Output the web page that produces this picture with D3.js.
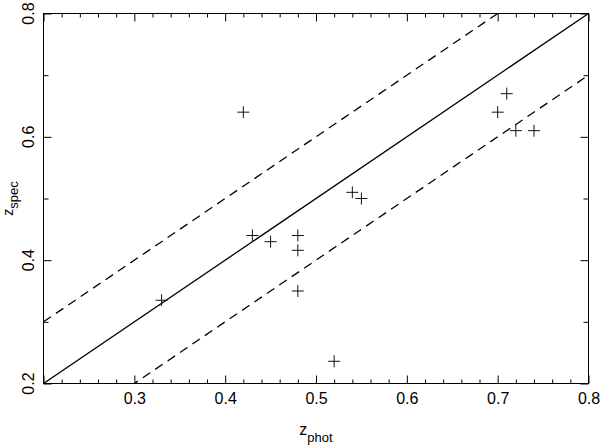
<!DOCTYPE html>
<html>
<head>
<meta charset="utf-8">
<script src="https://cdn.jsdelivr.net/npm/d3@7"></script>
<style>
  body { margin: 0; background: #fff; }
  text { font-family: "Liberation Sans", Arial, sans-serif; fill: #000; }
</style>
</head>
<body>
<div id="chart"></div>
<script>
const width = 600;
const height = 445;

// photometric vs spectroscopic redshifts
const zPhot = [0.33, 0.42, 0.43, 0.45, 0.48, 0.48, 0.48, 0.52, 0.54, 0.55, 0.70, 0.71, 0.72, 0.74];
const zSpec = [0.335, 0.64, 0.44, 0.43, 0.44, 0.416, 0.35, 0.236, 0.51, 0.50, 0.64, 0.67, 0.61, 0.61];

const xMajor = [0.2, 0.3, 0.4, 0.5, 0.6, 0.7, 0.8];
const xLabels = [0.3, 0.4, 0.5, 0.6, 0.7, 0.8];
const yMajor = [0.2, 0.4, 0.6, 0.8];
const yMinor = [0.3, 0.5, 0.7];
const yLabels = [0.2, 0.4, 0.6, 0.8];

// one-to-one line and +/-0.1 envelope
const offsets = [0, 0.1, -0.1];

const svg = d3.select("#chart")
    .append("svg")
    .attr("width", width)
    .attr("height", height);

const x = d3.scaleLinear().domain([0.2, 0.8]).range([43.5, 588.5]);
const y = d3.scaleLinear().domain([0.2, 0.8]).range([383.5, 13.5]);

const fmt = d3.format(".1f");
const xMinor = x.ticks(30).filter(v => !xMajor.some(m => Math.abs(m - v) < 1e-6));

svg.append("clipPath").attr("id", "plot")
    .append("rect")
    .attr("x", x(0.2)).attr("y", y(0.8))
    .attr("width", x(0.8) - x(0.2)).attr("height", y(0.2) - y(0.8));

// lines
offsets.forEach(function(off) {
    svg.append("line")
        .attr("clip-path", "url(#plot)")
        .attr("x1", x(0.2)).attr("y1", y(0.2 + off))
        .attr("x2", x(0.8)).attr("y2", y(0.8 + off))
        .attr("stroke", "#000")
        .attr("stroke-width", 1.3)
        .attr("stroke-dasharray", off === 0 ? null : "9,6");
});

// axes
function clean(g) {
    g.select(".domain").remove();
    g.selectAll("line").attr("stroke", "#000");
}

svg.append("g")
    .attr("transform", `translate(0,${y(0.2)})`)
    .call(d3.axisBottom(x).tickValues(xMajor).tickSize(-8).tickPadding(9)
        .tickFormat(d => xLabels.some(v => Math.abs(v - d) < 1e-6) ? fmt(d) : ""))
    .call(clean)
    .call(g => g.selectAll("text").attr("font-size", 16).attr("font-family", null));

svg.append("g")
    .attr("transform", `translate(0,${y(0.2)})`)
    .call(d3.axisBottom(x).tickValues(xMinor).tickSize(-4).tickFormat(""))
    .call(clean);

svg.append("g")
    .attr("transform", `translate(0,${y(0.8)})`)
    .call(d3.axisTop(x).tickValues(xMajor).tickSize(-8).tickFormat(""))
    .call(clean);

svg.append("g")
    .attr("transform", `translate(0,${y(0.8)})`)
    .call(d3.axisTop(x).tickValues(xMinor).tickSize(-4).tickFormat(""))
    .call(clean);

[[x(0.2), d3.axisLeft], [x(0.8), d3.axisRight]].forEach(function([pos, axis]) {
    svg.append("g")
        .attr("transform", `translate(${pos},0)`)
        .call(axis(y).tickValues(yMajor).tickSize(-8).tickFormat(""))
        .call(clean);
    svg.append("g")
        .attr("transform", `translate(${pos},0)`)
        .call(axis(y).tickValues(yMinor).tickSize(-5).tickFormat(""))
        .call(clean);
});

svg.selectAll(".ylab")
    .data(yLabels)
    .join("text")
    .attr("class", "ylab")
    .attr("transform", d => `translate(33.5,${y(d)}) rotate(-90)`)
    .attr("text-anchor", "middle")
    .attr("font-size", 16)
    .text(fmt);

// frame
svg.append("rect")
    .attr("x", x(0.2)).attr("y", y(0.8))
    .attr("width", x(0.8) - x(0.2)).attr("height", y(0.2) - y(0.8))
    .attr("fill", "none")
    .attr("stroke", "#000")
    .attr("stroke-width", 1);

// points
const pts = svg.append("g")
    .attr("stroke", "#111")
    .attr("stroke-width", 1);

pts.selectAll("path")
    .data(d3.range(zPhot.length))
    .join("path")
    .attr("d", function(i) {
        const cx = x(zPhot[i]), cy = y(zSpec[i]);
        return `M${cx - 6},${cy}H${cx + 6}M${cx},${cy - 6}V${cy + 6}`;
    });

// axis titles
const xt = svg.append("text")
    .attr("x", (x(0.2) + x(0.8)) / 2)
    .attr("y", 434.5)
    .attr("text-anchor", "middle")
    .attr("font-size", 16);
xt.append("tspan").text("z");
xt.append("tspan").attr("dy", 7).attr("font-size", 13).text("phot");

const yt = svg.append("text")
    .attr("transform", `translate(13,${(y(0.2) + y(0.8)) / 2}) rotate(-90)`)
    .attr("text-anchor", "middle")
    .attr("font-size", 14);
yt.append("tspan").text("z");
yt.append("tspan").attr("dy", 5).attr("font-size", 13).text("spec");
</script>
</body>
</html>
